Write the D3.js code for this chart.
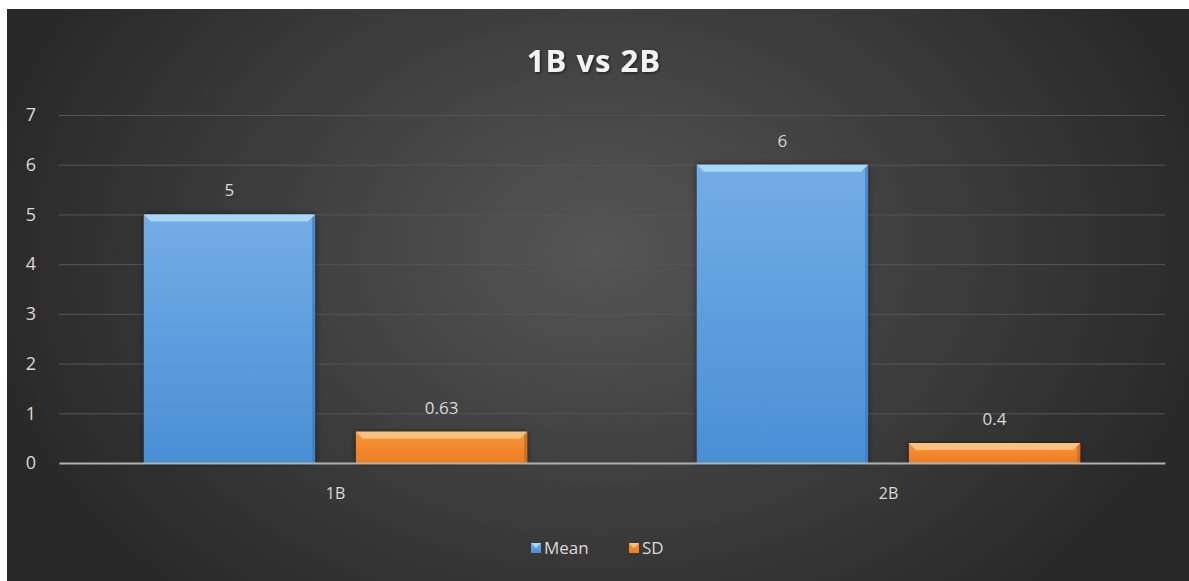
<!DOCTYPE html>
<html>
<head>
<meta charset="utf-8">
<script src="https://cdn.jsdelivr.net/npm/d3@7"></script>
<style>
  html, body { margin: 0; padding: 0; background: #fff; }
  svg { display: block; }
</style>
</head>
<body>
<div id="here"></div>
<script>
   var w = 1189, h = 581;

   var categories = ['1B', '2B'];
   var seriesNames = ['Mean', 'SD'];
   var meanValues = [5, 6];
   var sdValues = [0.63, 0.4];
   var yTicks = [0, 1, 2, 3, 4, 5, 6, 7];

   var colors = {
     Mean: {top: '#73ade6', bottom: '#4a8fd5', bevel: '#aad6f7', side: '#3d7cc0'},
     SD:   {top: '#f9963c', bottom: '#ec7c22', bevel: '#fcc07f', side: '#c9641a'}
   };

   var rows = categories.map(function(c, i) {
     return {cat: c, Mean: meanValues[i], SD: sdValues[i]};
   });

   var margin = {left: 59, right: 24, top: 115, bottom: 118};

   var svg = d3.select('#here').append('svg')
     .attr('width', w)
     .attr('height', h);

   var defs = svg.append('defs');
   var bg = defs.append('radialGradient').attr('id', 'bg')
     .attr('gradientUnits', 'userSpaceOnUse')
     .attr('cx', 598).attr('cy', 250).attr('r', 620)
     .attr('gradientTransform', 'translate(598,250) scale(1,0.75) translate(-598,-250)');
   bg.append('stop').attr('offset', '0%').attr('stop-color', '#555555');
   bg.append('stop').attr('offset', '100%').attr('stop-color', '#292929');

   seriesNames.forEach(function(s) {
     var g = defs.append('linearGradient').attr('id', 'grad' + s)
       .attr('x1', 0).attr('y1', 0).attr('x2', 0).attr('y2', 1);
     g.append('stop').attr('offset', '0%').attr('stop-color', colors[s].top);
     g.append('stop').attr('offset', '100%').attr('stop-color', colors[s].bottom);
   });

   var shadow = defs.append('filter').attr('id', 'shadow')
     .attr('x', '-10%').attr('y', '-10%').attr('width', '130%').attr('height', '130%');
   shadow.append('feDropShadow').attr('dx', 1).attr('dy', 1)
     .attr('stdDeviation', 1.5).attr('flood-color', '#000').attr('flood-opacity', 0.6);

   var barShadow = defs.append('filter').attr('id', 'barShadow')
     .attr('x', '-10%').attr('y', '-10%').attr('width', '120%').attr('height', '120%');
   barShadow.append('feDropShadow').attr('dx', 0).attr('dy', 0)
     .attr('stdDeviation', 3).attr('flood-color', '#000').attr('flood-opacity', 0.5);

   // chart area background (white margin top/left as in the picture)
   svg.append('rect')
     .attr('x', 7).attr('y', 9)
     .attr('width', w - 7).attr('height', h - 9)
     .attr('fill', 'url(#bg)');

   var x0 = d3.scaleBand()
     .domain(categories)
     .range([margin.left, w - margin.right]);

   var x1 = d3.scaleBand()
     .domain(seriesNames)
     .range([0, x0.bandwidth()])
     .paddingInner(0.193)
     .paddingOuter(0.4);

   var y = d3.scaleLinear()
     .domain([0, 7])
     .range([h - margin.bottom, margin.top]);

   // gridlines
   svg.append('g')
     .selectAll('line')
     .data(yTicks.filter(function(d) { return d > 0; }))
     .enter().append('line')
     .attr('x1', margin.left).attr('x2', w - margin.right)
     .attr('y1', function(d) { return y(d) + 0.5; })
     .attr('y2', function(d) { return y(d) + 0.5; })
     .attr('stroke', '#555555')
     .attr('stroke-width', 1);

   // y axis labels
   var yAxis = d3.axisLeft(y).tickValues(yTicks).tickFormat(d3.format('d')).tickSize(0).tickPadding(0);
   var yg = svg.append('g')
     .attr('transform', 'translate(36,0)')
     .call(yAxis);
   yg.select('.domain').remove();
   yg.selectAll('text')
     .attr('fill', '#d9d9d9')
     .style('font-family', 'Open Sans, sans-serif')
     .style('font-size', '18px');

   // bars
   var groups = svg.append('g').selectAll('g')
     .data(rows)
     .enter().append('g')
     .attr('transform', function(d) { return 'translate(' + x0(d.cat) + ',0)'; });

   var bars = groups.selectAll('g')
     .data(function(d) { return seriesNames.map(function(s) { return {key: s, value: d[s]}; }); })
     .enter().append('g');

   bars.append('rect')
     .attr('x', function(d) { return x1(d.key); })
     .attr('y', function(d) { return y(d.value); })
     .attr('width', x1.bandwidth())
     .attr('height', function(d) { return y(0) - y(d.value); })
     .attr('fill', function(d) { return 'url(#grad' + d.key + ')'; })
     .attr('filter', 'url(#barShadow)');

   // bevel on top edge
   bars.append('path')
     .attr('d', function(d) {
       var bx = x1(d.key), bw = x1.bandwidth(), by = y(d.value), bv = 7;
       return 'M' + bx + ',' + by + 'L' + (bx + bw) + ',' + by +
              'L' + (bx + bw - bv) + ',' + (by + bv) + 'L' + (bx + bv) + ',' + (by + bv) + 'Z';
     })
     .attr('fill', function(d) { return colors[d.key].bevel; });

   // bevel on sides
   bars.append('path')
     .attr('d', function(d) {
       var bx = x1(d.key), bw = x1.bandwidth(), by = y(d.value), b0 = y(0), bv = 7;
       return 'M' + (bx + bw) + ',' + by + 'L' + (bx + bw) + ',' + b0 +
              'L' + (bx + bw - 3) + ',' + b0 + 'L' + (bx + bw - 3) + ',' + (by + bv * 0.5) + 'Z';
     })
     .attr('fill', function(d) { return colors[d.key].side; })
     .attr('opacity', 0.7);

   // data labels
   bars.append('text')
     .attr('x', function(d) { return x1(d.key) + x1.bandwidth() / 2; })
     .attr('y', function(d) { return y(d.value) - 18; })
     .attr('text-anchor', 'middle')
     .attr('fill', '#d9d9d9')
     .style('font-family', 'Open Sans, sans-serif')
     .style('font-size', '17px')
     .text(function(d) { return d.value; });

   // baseline axis
   var xAxis = d3.axisBottom(x0).tickSize(0).tickPadding(25);
   var xg = svg.append('g')
     .attr('transform', 'translate(0,' + y(0) + ')')
     .call(xAxis);
   xg.select('.domain').attr('stroke', '#b0b0b0').attr('stroke-width', 2);
   xg.selectAll('text')
     .attr('fill', '#d9d9d9')
     .style('font-family', 'Open Sans, sans-serif')
     .style('font-size', '16px');

   // title
   svg.append('text')
     .attr('x', 594).attr('y', 72)
     .attr('text-anchor', 'middle')
     .attr('fill', '#f2f2f2')
     .attr('filter', 'url(#shadow)')
     .style('font-family', 'Open Sans, sans-serif')
     .style('font-weight', 'bold')
     .style('font-size', '31px')
     .style('letter-spacing', '1px')
     .text('1B vs 2B');

   // legend
   var legend = svg.append('g').attr('transform', 'translate(531,548)');
   var lx = [0, 98];
   var li = legend.selectAll('g')
     .data(seriesNames)
     .enter().append('g')
     .attr('transform', function(d, i) { return 'translate(' + lx[i] + ',0)'; });
   li.append('rect')
     .attr('x', 0).attr('y', -5)
     .attr('width', 10).attr('height', 10)
     .attr('fill', function(d) { return 'url(#grad' + d + ')'; });
   li.append('path')
     .attr('d', 'M0,-5L10,-5L5,0Z')
     .attr('fill', function(d) { return colors[d].bevel; });
   li.append('text')
     .attr('x', 13).attr('y', 6)
     .attr('fill', '#d9d9d9')
     .style('font-family', 'Open Sans, sans-serif')
     .style('font-size', '17px')
     .text(function(d) { return d; });
</script>
</body>
</html>
